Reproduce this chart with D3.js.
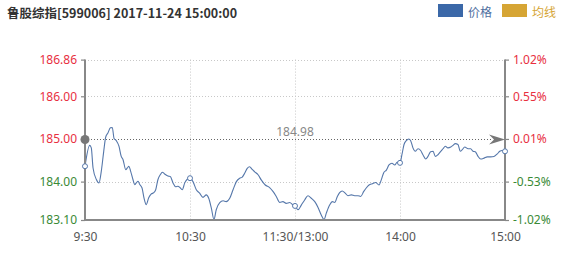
<!DOCTYPE html>
<html><head><meta charset="utf-8">
<script src="https://cdn.jsdelivr.net/npm/d3@7"></script>
<style>
body{margin:0;background:#fff;}
svg{display:block;font-family:"Noto Sans","Noto Sans CJK SC",sans-serif;}
</style></head><body>
<svg id="c" width="566" height="267"></svg>
<script>
const title = "鲁股综指[599006] 2017-11-24 15:00:00";
const legendNames = ["价格", "均线"];
const legendColors = ["#3b68a8", "#d6a534"];
const preClose = 184.98;
const yTicks = [183.10, 184.00, 185.00, 186.00, 186.86];
const yTickLabels = ["183.10", "184.00", "185.00", "186.00", "186.86"];
const pctLabels = ["-1.02%", "-0.53%", "0.01%", "0.55%", "1.02%"];
const xTickMinutes = [0, 60, 120, 180, 240];
const xTickLabels = ["9:30", "10:30", "11:30/13:00", "14:00", "15:00"];
const markerMinutes = [0, 60, 120, 180, 240];
const minutes = [0,2.7,3.6,4.6,6.5,8,9.3,10.7,11.8,13.1,14.5,15.6,16.6,17.9,19.4,20.7,21.7,23.3,24.2,25.1,26.1,27.4,28.4,29.3,30.3,31.3,32.6,33.7,35,36.4,37.9,39.3,40.4,41.7,43,44.2,45.5,47.4,48.7,50.3,51.8,53.1,54.5,55.6,57,58.3,60,
61.7,63.6,65.5,67.4,69.3,70.7,72.2,73.7,75,77,78.9,80.7,82.7,84.6,86.5,88.4,89.7,91.3,92.7,94.1,95.4,97,98.9,100.7,103,105.5,107.4,109.3,111.3,113.1,115,117,118.9,120,
121.7,123.6,125.5,127.4,129.3,131.3,133.1,135,136.6,137.9,139.8,141.3,142.7,144.2,145.5,147,148.7,150.3,152.2,154.1,156,157.5,159.3,160.7,162.3,164.2,166.1,168,169.3,170.7,172.2,173.7,175.4,177,178.3,180,
181.1,182.3,183.6,185,186.1,187.4,188.7,190.3,191.8,193.1,194.7,196,197.5,198.9,200.2,201.7,203.3,204.6,205.9,207.4,209,210.3,211.6,213.1,214.5,215.6,217,218.9,220.4,221.7,223,224.6,226.1,228,229.9,231.8,233.7,235.6,237,238.3,240];
const prices = [184.36,184.85,184.79,184.32,184.05,183.97,184.24,184.71,185.04,185.14,185.26,185.27,185.01,184.96,184.83,184.59,184.52,184.28,184.32,184.36,184.24,184.05,183.93,183.97,184.01,183.93,183.85,183.62,183.46,183.62,183.71,183.74,183.81,184.05,184.16,184.22,184.18,184.13,184.12,183.97,183.88,183.89,183.85,183.81,183.97,184.05,184.08,
184.00,183.81,183.73,183.63,183.69,183.61,183.38,183.11,183.34,183.51,183.55,183.53,183.61,183.81,184.00,184.08,184.10,184.20,184.31,184.35,184.29,184.23,184.16,184.04,183.92,183.86,183.77,183.65,183.51,183.53,183.49,183.51,183.45,183.43,
183.34,183.45,183.57,183.67,183.61,183.53,183.40,183.22,183.11,183.26,183.45,183.53,183.51,183.65,183.74,183.78,183.73,183.67,183.69,183.67,183.67,183.65,183.77,183.85,183.92,183.95,183.98,183.92,184.04,184.21,184.27,184.39,184.43,184.39,184.45,184.44,
184.63,184.87,184.96,185.00,184.96,184.79,184.71,184.77,184.73,184.63,184.53,184.59,184.70,184.71,184.59,184.63,184.71,184.77,184.83,184.79,184.81,184.85,184.89,184.87,184.71,184.75,184.81,184.77,184.77,184.71,184.70,184.59,184.53,184.55,184.58,184.58,184.59,184.65,184.71,184.73,184.71];

const svg = d3.select("#c");
const L = 85, R = 505, T = 59.6, B = 220;
const x = d3.scaleLinear().domain([0, 240]).range([L, R]);
const y = d3.scaleLinear().domain([183.10, 186.86]).range([B, T]);
const red = "#e8303f", green = "#3a8a36";

// title
svg.append("text").attr("x", 7).attr("y", 18).attr("font-size", 12.5).attr("font-weight", "bold")
  .attr("fill", "#333").attr("font-family", "'Noto Sans CJK SC',sans-serif").text(title);

// legend
legendNames.forEach((n, i) => {
  const lx = 438 + i * 64;
  svg.append("rect").attr("x", lx).attr("y", 4).attr("width", 25).attr("height", 13).attr("fill", legendColors[i]);
  svg.append("text").attr("x", lx + 30).attr("y", 16.5).attr("font-size", 12)
    .attr("font-family", "'Noto Sans CJK SC',sans-serif")
    .attr("fill", i === 0 ? "#4f6f9f" : legendColors[i]).text(n);
});

// horizontal grid
svg.append("g").selectAll("line").data(yTicks.filter(v => v !== 183.10 && v !== 185.00)).join("line")
  .attr("x1", L).attr("x2", R).attr("y1", d => Math.round(y(d)) + 0.5).attr("y2", d => Math.round(y(d)) + 0.5)
  .attr("stroke", "#c8c8c8").attr("stroke-dasharray", "1,2");
// vertical grid
svg.append("g").selectAll("line").data(xTickMinutes.slice(1, -1)).join("line")
  .attr("x1", d => Math.round(x(d)) + 0.5).attr("x2", d => Math.round(x(d)) + 0.5).attr("y1", T).attr("y2", B)
  .attr("stroke", "#c8c8c8").attr("stroke-dasharray", "1,2");

// preclose line
const py = Math.round(y(185.00)) + 0.5;
svg.append("line").attr("x1", L).attr("x2", R - 12).attr("y1", py).attr("y2", py)
  .attr("stroke", "#666").attr("stroke-dasharray", "1,2");
svg.append("text").attr("x", x(120)).attr("y", py - 3.5).attr("text-anchor", "middle")
  .attr("font-size", 12).attr("fill", "#888").text(preClose.toFixed(2));

// price line
const pts = minutes.map((m, i) => [m, prices[i]]);
svg.append("path").datum(pts)
  .attr("d", d3.line().x(d => x(d[0])).y(d => y(d[1])).curve(d3.curveMonotoneX))
  .attr("fill", "none").attr("stroke", "#5577aa").attr("stroke-width", 1.1);

// axes
const axL = svg.append("g").attr("transform", `translate(${L},0)`)
  .call(d3.axisLeft(y).tickValues(yTicks).tickSize(4).tickFormat((d, i) => yTickLabels[i]));
const axR = svg.append("g").attr("transform", `translate(${R},0)`)
  .call(d3.axisRight(y).tickValues(yTicks).tickSize(4).tickFormat((d, i) => pctLabels[i]));
const axB = svg.append("g").attr("transform", `translate(0,${B})`)
  .call(d3.axisBottom(x).tickValues(xTickMinutes).tickSize(0).tickFormat((d, i) => xTickLabels[i]));
[axL, axR, axB].forEach(g => {
  g.select(".domain").attr("stroke", "#888").attr("stroke-width", 2);
  g.selectAll(".tick line").attr("stroke", "#888").attr("stroke-width", 1.2);
  g.selectAll("text").attr("font-size", 12).attr("font-family", "'Noto Sans',sans-serif");
});
axL.select(".domain").attr("d", `M0,${T}V${B}`);
axR.select(".domain").attr("d", `M0,${T}V${B}`);
axB.select(".domain").attr("d", `M${L},0H${R}`);
axL.selectAll(".tick text").attr("x", -8).attr("fill", (d) => d >= preClose ? red : green);
axR.selectAll(".tick text").attr("x", 8).attr("fill", (d, i) => pctLabels[i].startsWith("-") ? green : red);
axB.selectAll(".tick text").attr("y", 12).attr("fill", "#555");

// markers
svg.append("g").selectAll("circle").data(markerMinutes).join("circle")
  .attr("cx", d => x(d)).attr("cy", d => y(prices[minutes.indexOf(d)]))
  .attr("r", 2.5).attr("fill", "#fff").attr("stroke", "#5577aa").attr("stroke-width", 1);

// preclose symbols
svg.append("circle").attr("cx", L).attr("cy", py).attr("r", 4.5).attr("fill", "#777");
svg.append("path").attr("transform", `translate(${R},${py})`)
  .attr("d", "M0,0 L-16,-5 L-11,0 L-16,5 Z").attr("fill", "#777");
</script></body></html>
